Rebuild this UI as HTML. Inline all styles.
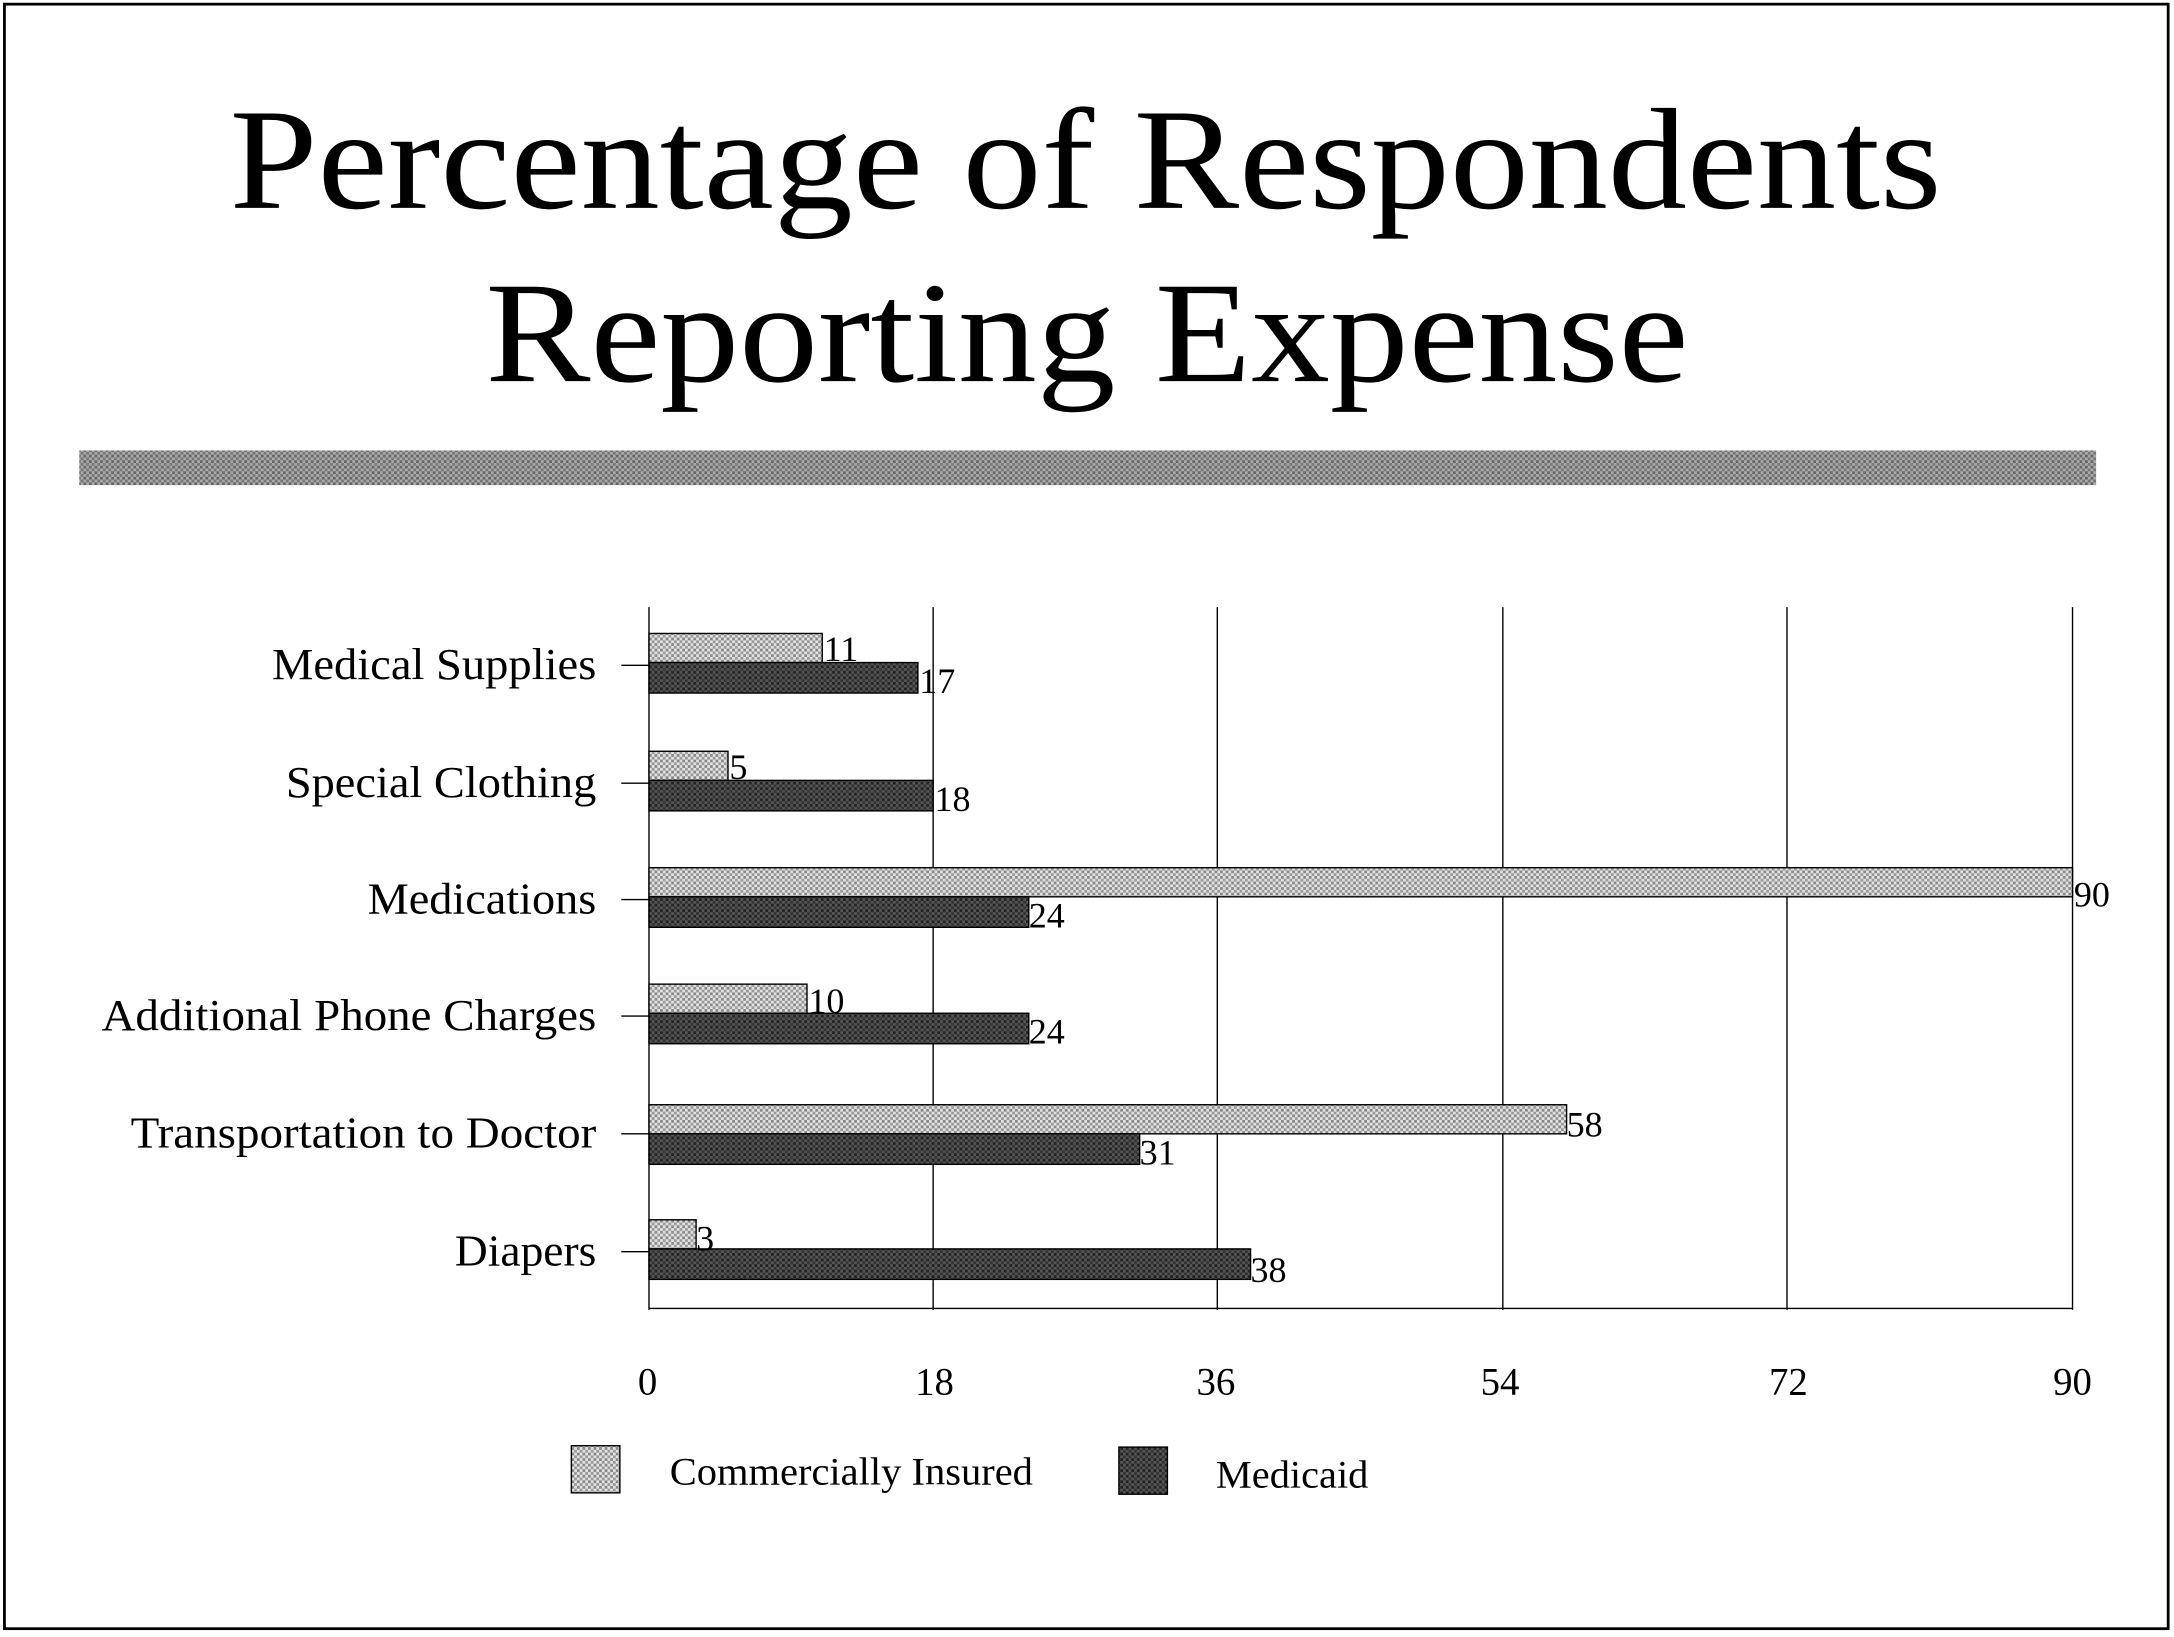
<!DOCTYPE html>
<html><head><style>html,body{margin:0;padding:0;background:#fff}svg{display:block}</style></head>
<body>
<svg width="2174" height="1637" viewBox="0 0 1568 1181" xmlns="http://www.w3.org/2000/svg" font-family="'Liberation Serif', serif">
<defs>
<pattern id="lt" width="4" height="4" patternUnits="userSpaceOnUse"><rect width="4" height="4" fill="#e2e2e2"/><rect width="2" height="2" fill="#888"/><rect x="2" y="2" width="2" height="2" fill="#999"/></pattern>
<pattern id="dk" width="4" height="4" patternUnits="userSpaceOnUse"><rect width="4" height="4" fill="#555"/><rect width="2" height="2" fill="#222"/><rect x="2" y="2" width="2" height="2" fill="#333"/></pattern>
<pattern id="band" width="4" height="4" patternUnits="userSpaceOnUse"><rect width="4" height="4" fill="#aaa"/><rect width="2" height="2" fill="#666"/><rect x="2" y="2" width="2" height="2" fill="#777"/></pattern>
</defs>
<rect x="3" y="3" width="1561" height="1172" fill="#fff" stroke="#000" stroke-width="2"/>
<text x="783" y="150" font-size="104" text-anchor="middle" textLength="1235" lengthAdjust="spacingAndGlyphs">Percentage of Respondents</text>
<text x="784" y="275" font-size="104" text-anchor="middle" textLength="868" lengthAdjust="spacingAndGlyphs">Reporting Expense</text>
<rect x="57" y="325" width="1455" height="25" fill="url(#band)"/>
<g stroke="#000" stroke-width="1">
<line x1="468" y1="438" x2="468" y2="945"/>
<line x1="673" y1="438" x2="673" y2="945"/>
<line x1="878" y1="438" x2="878" y2="945"/>
<line x1="1084" y1="438" x2="1084" y2="945"/>
<line x1="1289" y1="438" x2="1289" y2="945"/>
<line x1="1495" y1="438" x2="1495" y2="945"/>
<line x1="468" y1="944" x2="1495" y2="944"/>
<line x1="448" y1="480" x2="468" y2="480"/><line x1="448" y1="565" x2="468" y2="565"/><line x1="448" y1="649" x2="468" y2="649"/><line x1="448" y1="733" x2="468" y2="733"/><line x1="448" y1="818" x2="468" y2="818"/><line x1="448" y1="903" x2="468" y2="903"/>
</g>
<g font-size="32" text-anchor="end" lengthAdjust="spacingAndGlyphs">
<text x="430" y="490" textLength="234" lengthAdjust="spacingAndGlyphs">Medical Supplies</text>
<text x="430" y="575" textLength="224" lengthAdjust="spacingAndGlyphs">Special Clothing</text>
<text x="430" y="659" textLength="165" lengthAdjust="spacingAndGlyphs">Medications</text>
<text x="430" y="743" textLength="357" lengthAdjust="spacingAndGlyphs">Additional Phone Charges</text>
<text x="430" y="828" textLength="336" lengthAdjust="spacingAndGlyphs">Transportation to Doctor</text>
<text x="430" y="913" textLength="102" lengthAdjust="spacingAndGlyphs">Diapers</text>
</g>
<g stroke="#000" stroke-width="1">
<rect x="468" y="457" width="125" height="21" fill="url(#lt)"/><rect x="468" y="478" width="194" height="22" fill="url(#dk)"/>
<rect x="468" y="542" width="57" height="21" fill="url(#lt)"/><rect x="468" y="563" width="205" height="22" fill="url(#dk)"/>
<rect x="468" y="626" width="1027" height="21" fill="url(#lt)"/><rect x="468" y="647" width="274" height="22" fill="url(#dk)"/>
<rect x="468" y="710" width="114" height="21" fill="url(#lt)"/><rect x="468" y="731" width="274" height="22" fill="url(#dk)"/>
<rect x="468" y="797" width="662" height="21" fill="url(#lt)"/><rect x="468" y="818" width="354" height="22" fill="url(#dk)"/>
<rect x="468" y="880" width="34" height="21" fill="url(#lt)"/><rect x="468" y="901" width="434" height="22" fill="url(#dk)"/>
</g>
<g font-size="26">
<text x="594" y="477">11</text><text x="663" y="500">17</text>
<text x="526" y="562">5</text><text x="674" y="585">18</text>
<text x="1496" y="654">90</text><text x="742" y="669">24</text>
<text x="583" y="731">10</text><text x="742" y="753">24</text>
<text x="1130" y="820">58</text><text x="822" y="840">31</text>
<text x="502" y="902">3</text><text x="902" y="925">38</text>
</g>
<g font-size="28" text-anchor="middle">
<text x="467" y="1006">0</text><text x="674" y="1006">18</text><text x="877" y="1006">36</text><text x="1082" y="1006">54</text><text x="1290" y="1006">72</text><text x="1495" y="1006">90</text>
</g>
<rect x="412" y="1043" width="35" height="34" fill="url(#lt)" stroke="#000"/>
<text x="483" y="1071" font-size="28" textLength="262" lengthAdjust="spacingAndGlyphs">Commercially Insured</text>
<rect x="807" y="1044" width="35" height="34" fill="url(#dk)" stroke="#000"/>
<text x="877" y="1073" font-size="28" textLength="110" lengthAdjust="spacingAndGlyphs">Medicaid</text>
</svg>
</body></html>
